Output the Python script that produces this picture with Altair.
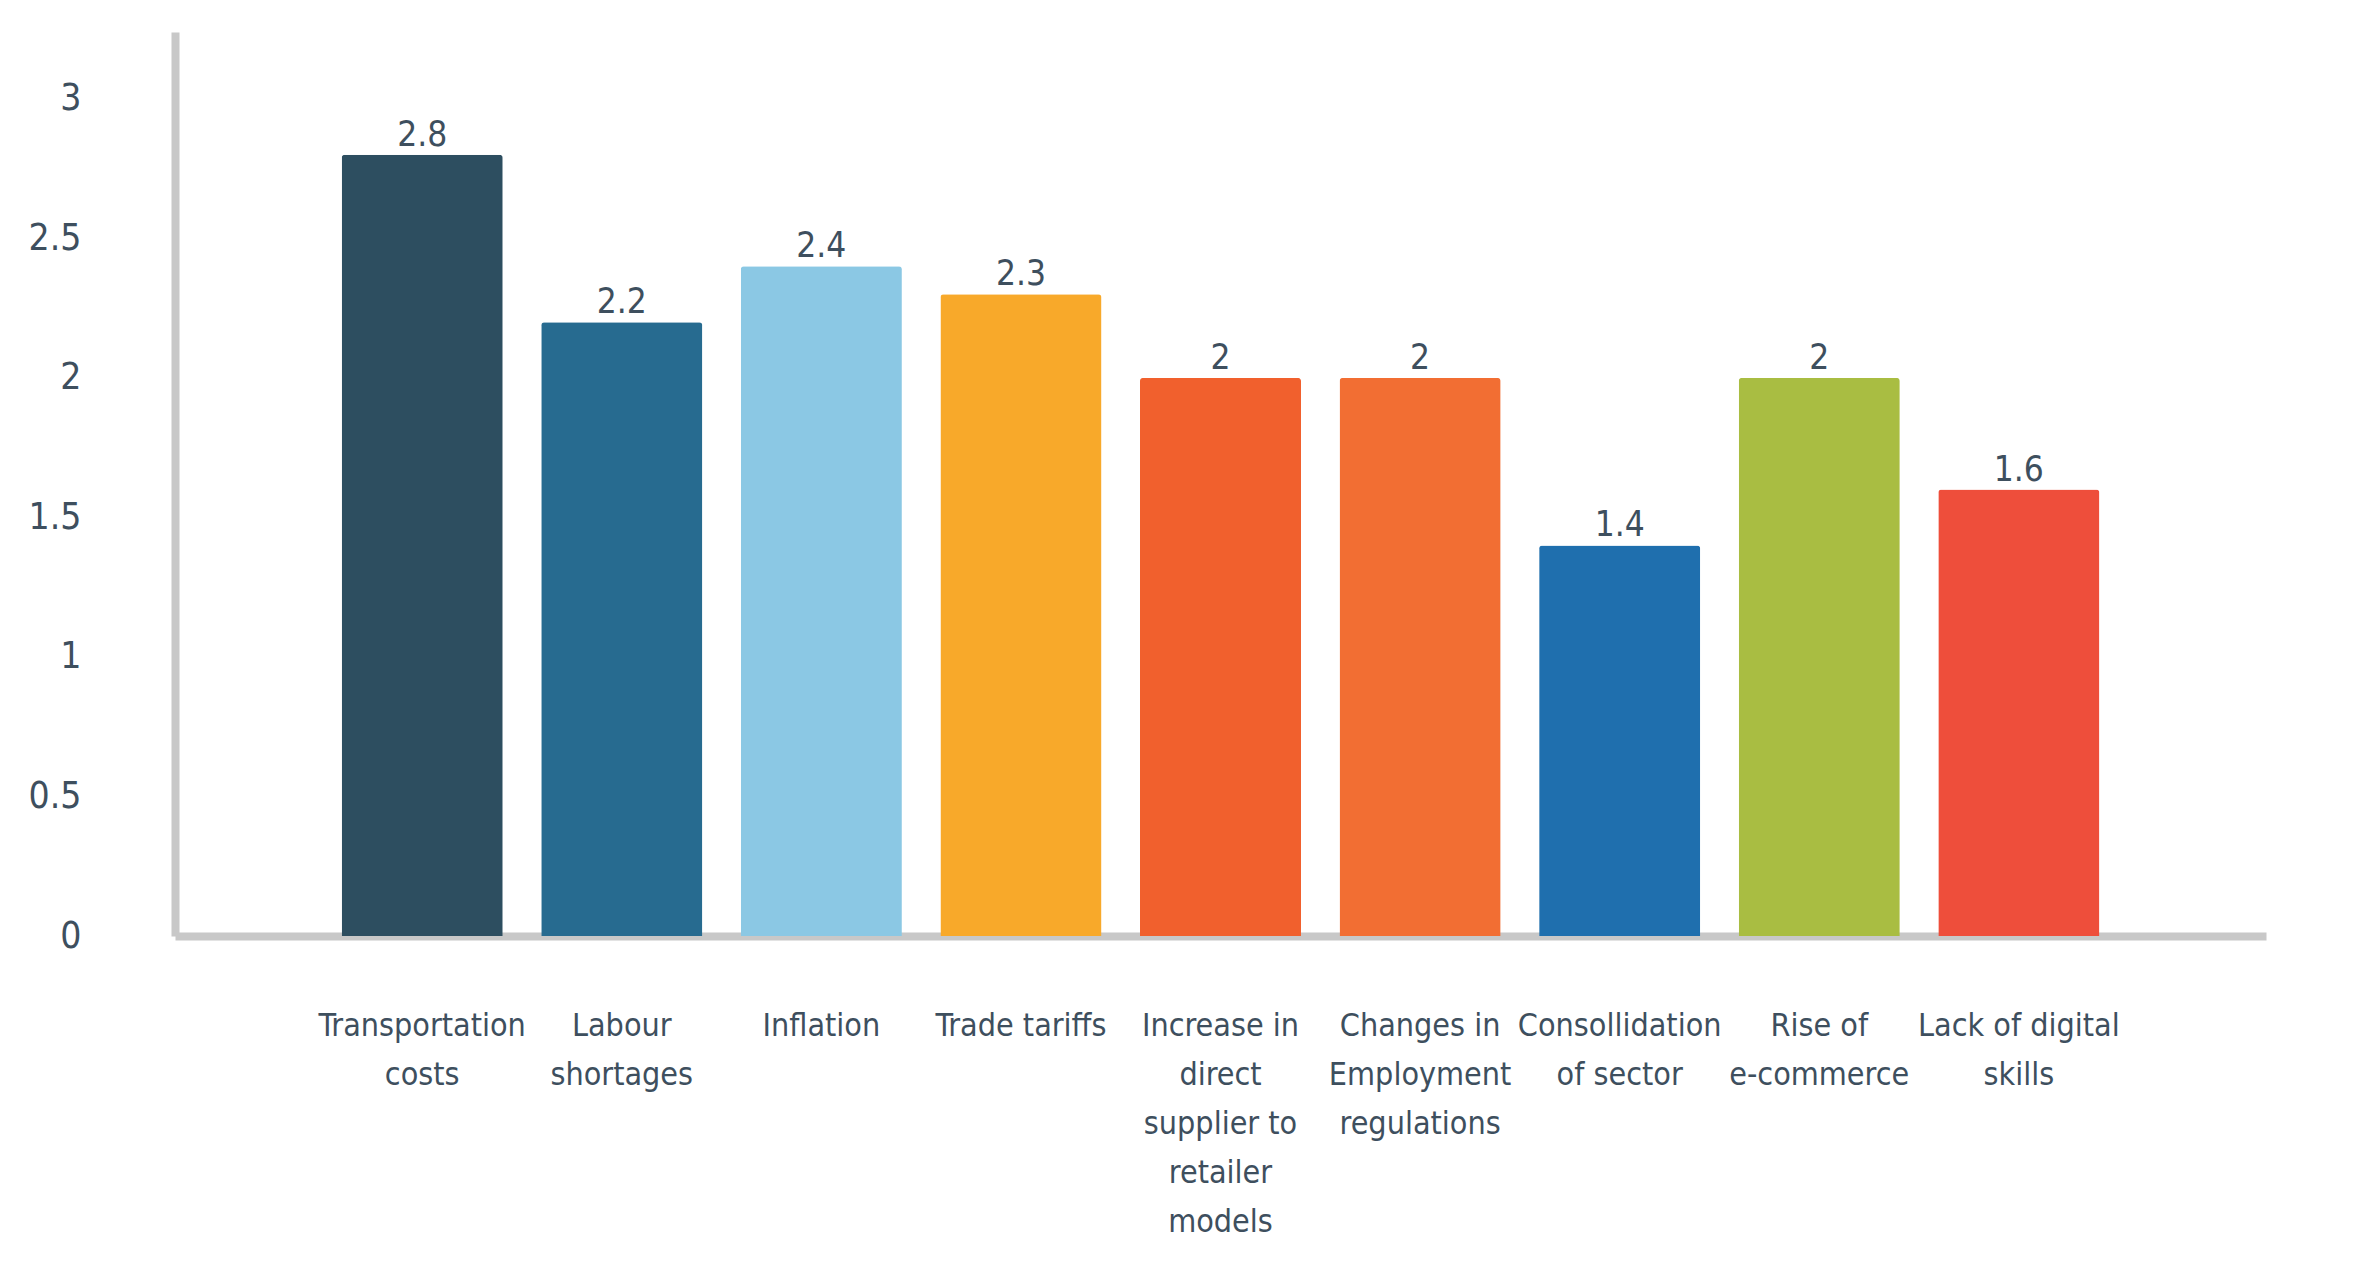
import altair as alt
import pandas as pd

categories = [
    "Transportation\ncosts",
    "Labour\nshortages",
    "Inflation",
    "Trade tariffs",
    "Increase in\ndirect\nsupplier to\nretailer\nmodels",
    "Changes in\nEmployment\nregulations",
    "Consollidation\nof sector",
    "Rise of\ne-commerce",
    "Lack of digital\nskills",
]
values = [2.8, 2.2, 2.4, 2.3, 2.0, 2.0, 1.4, 2.0, 1.6]
colors = ["#2d4e60", "#276b90", "#8bc8e4", "#f8a92a", "#f1602d",
          "#f26e33", "#1f6fae", "#a9bd42", "#ee4e3b"]
y_ticks = [0, 0.5, 1, 1.5, 2, 2.5, 3]

df = pd.DataFrame({"category": categories, "value": values})

FONT = "DejaVu Sans Condensed, Liberation Sans Narrow, Roboto, sans-serif"
TEXT = "#3e4f5e"
AXIS = "#c8c8c8"

x = alt.X(
    "category:N",
    sort=None,
    scale=alt.Scale(paddingInner=0.193, paddingOuter=0.835),
    axis=alt.Axis(
        title=None,
        labelAngle=0,
        labelExpr="split(datum.label, '\\n')",
        labelFont=FONT,
        labelFontSize=32,
        labelColor=TEXT,
        labelLineHeight=49,
        labelPadding=74,
        labelBaseline="top",
        ticks=False,
        tickSize=0,
        domainColor=AXIS,
        domainWidth=8,
        labelLimit=400,
    ),
)

y = alt.Y(
    "value:Q",
    scale=alt.Scale(domain=[0, 3.24], nice=False, zero=True),
    axis=alt.Axis(
        title=None,
        values=y_ticks,
        format="~g",
        grid=False,
        ticks=False,
        tickSize=0,
        labelFont=FONT,
        labelFontSize=37,
        labelColor=TEXT,
        labelPadding=94,
        domainColor=AXIS,
        domainWidth=8,
    ),
)

bars = alt.Chart(df).mark_bar(cornerRadiusTopLeft=3, cornerRadiusTopRight=3).encode(
    x=x,
    y=y,
    color=alt.Color("category:N", scale=alt.Scale(domain=categories, range=colors), legend=None),
)

labels = alt.Chart(df).mark_text(
    baseline="alphabetic", dy=-9, font=FONT, fontSize=35, color=TEXT
).encode(
    x=alt.X("category:N", sort=None),
    y=alt.Y("value:Q"),
    text=alt.Text("value:Q", format="~g"),
)

chart = (
    alt.layer(bars, labels)
    .properties(
        width=2091,
        height=904,
        autosize=alt.AutoSizeParams(type="none"),
        padding={"left": 167, "top": 24, "right": 80, "bottom": 320},
        view=alt.ViewBackground(strokeWidth=0, strokeOpacity=0),
    )
    .configure_view(strokeWidth=0, strokeOpacity=0)
    .configure(background="white")
)

chart.save("out.html", embed_options={"renderer": "svg", "actions": False})
